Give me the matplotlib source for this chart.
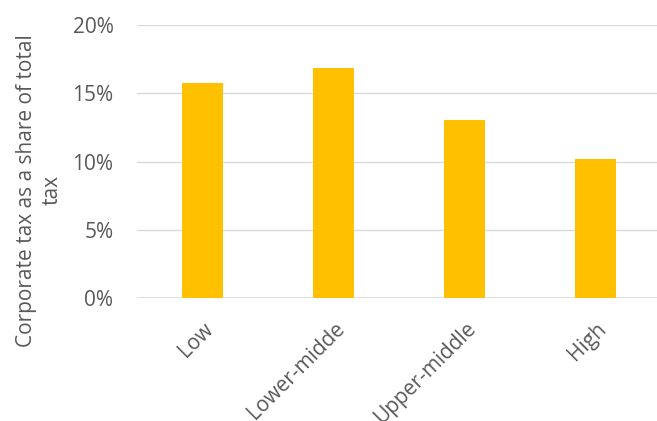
import numpy as np
import matplotlib.pyplot as plt
import matplotlib.transforms as mtransforms
from matplotlib.ticker import FuncFormatter

categories = ["Low", "Lower-midde", "Upper-middle", "High"]
shares = [15.73, 16.87, 13.04, 10.18]
yticks = [0, 5, 10, 15, 20]

plt.rcParams['font.family'] = ['Open Sans', 'DejaVu Sans']

fig = plt.figure(figsize=(6.57, 4.21), dpi=100)
ax = fig.add_axes([137/657, 123/421, 524/657, 273/421])

x = np.arange(len(categories))
ax.bar(x, shares, width=0.31, color="#FFC000", zorder=3)

ax.set_xlim(-0.5, len(categories) - 0.5)
ax.set_ylim(0, 20)
ax.set_yticks(yticks)
ax.yaxis.set_major_formatter(FuncFormatter(lambda v, p: f"{v:.0f}%"))
ax.grid(axis="y", color="#D9D9D9", linewidth=1.0, zorder=0)
for s in ["top", "right", "left", "bottom"]:
    ax.spines[s].set_visible(False)
ax.axhline(0, color="#D9D9D9", linewidth=1.2, zorder=2)

ax.tick_params(axis="both", length=0, labelsize=15, colors="#595959")
ax.tick_params(axis="y", pad=17)
ax.set_xticks(x)
ax.set_xticklabels(categories, rotation=45, ha="right", va="center",
                   rotation_mode="anchor")
ax.tick_params(axis="x", pad=20)
shift = mtransforms.ScaledTranslation(8/100, 0, fig.dpi_scale_trans)
for lbl in ax.get_xticklabels():
    lbl.set_transform(lbl.get_transform() + shift)

ax.set_ylabel("Corporate tax as a share of total\ntax", fontsize=15,
              color="#595959", linespacing=1.35)
ax.yaxis.set_label_coords(-0.141, 0.395)

fig.savefig("out.png", dpi=100)
